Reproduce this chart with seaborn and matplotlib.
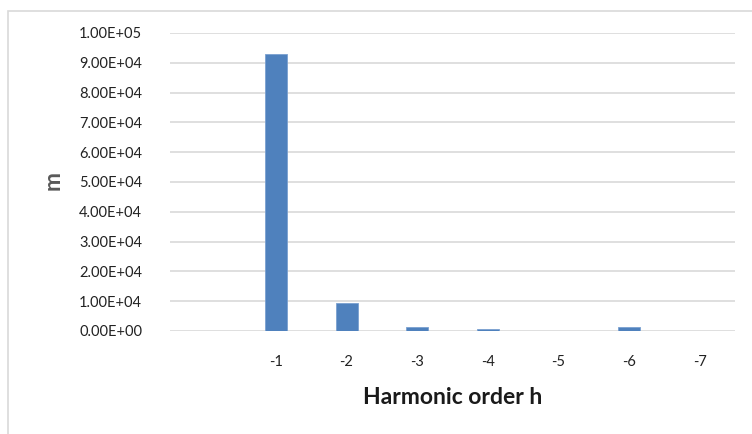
import pandas as pd
import seaborn as sns
import matplotlib.pyplot as plt
from matplotlib.patches import Rectangle
from matplotlib.ticker import FuncFormatter

# categorias del eje x (la primera queda vacia, como en el original)
categorias = ["", "-1", "-2", "-3", "-4", "-5", "-6", "-7"]
ordenes = ["-1", "-2", "-3", "-4", "-5", "-6", "-7"]
valores = [92900, 9300, 1500, 700, 100, 1200, 100]

df = pd.DataFrame({"h": ordenes, "m": valores})

sns.set_style("white")
plt.rcParams["font.family"] = ["Lato", "DejaVu Sans"]

fig = plt.figure(figsize=(7.52, 4.34), dpi=100)
ax = fig.add_axes([170 / 752, 1 - 331 / 434, 565 / 752, 298 / 434])

sns.barplot(data=df, x="h", y="m", order=categorias, color="#4f81bd",
            width=0.31, edgecolor="#7aa0d0", linewidth=0.6, saturation=1,
            ax=ax, zorder=3)

ax.set_ylim(0, 100000)
ax.set_xlim(-0.5, 7.5)
ax.set_yticks(range(0, 100001, 10000))
ax.yaxis.set_major_formatter(FuncFormatter(lambda v, p: f"{v:.2E}"))
ax.grid(axis="y", color="#d9d9d9", linewidth=1.2, zorder=0)
ax.set_axisbelow(True)
for s in ax.spines.values():
    s.set_visible(False)
ax.tick_params(axis="both", length=0, labelsize=10.5, colors="#222222")
ax.tick_params(axis="y", pad=20)
ax.tick_params(axis="x", pad=17)

ax.set_xlabel("Harmonic order h", fontsize=16.5, fontweight="bold",
              color="#1a1a1a", labelpad=13)
ax.set_ylabel("")
fig.text(53 / 752, 1 - 181 / 434, "m", rotation=90, fontsize=16.5,
         fontweight="bold", color="#595959", ha="center", va="center")

# marco gris del area del grafico
fig.patches.append(Rectangle((8 / 752, -0.1), 1.1, 1.1 - 11 / 434,
                             transform=fig.transFigure, fill=False,
                             edgecolor="#d9d9d9", linewidth=1.2))

plt.savefig("out.png", dpi=100)
